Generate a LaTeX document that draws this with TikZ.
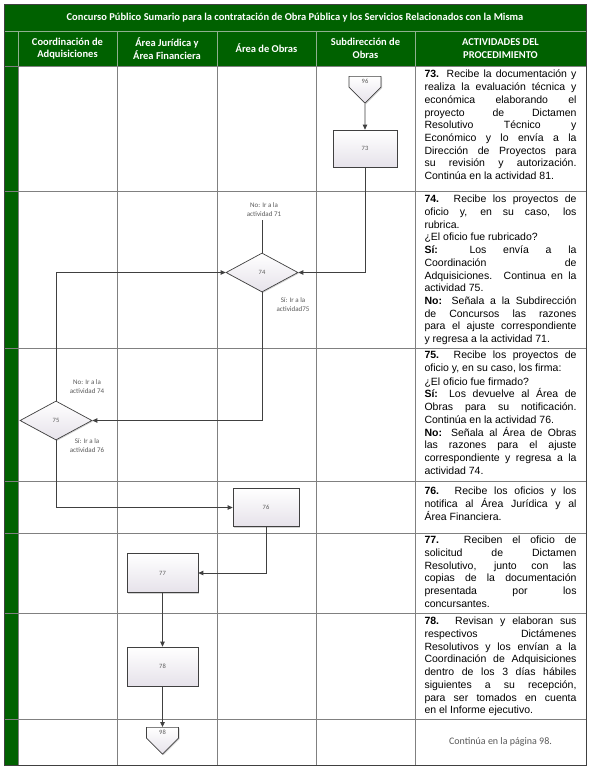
\documentclass[tikz,border=0pt]{standalone}
\usepackage{fontspec}
\setmainfont{Liberation Sans}
\newfontfamily\headfont{Carlito}
\usepackage{xcolor}
\usepackage{tikz}
\usetikzlibrary{positioning, arrows.meta, shapes.geometric, shapes.symbols, shadows}
\definecolor{HeadGreen}{HTML}{006100}
\definecolor{gLine}{HTML}{808080}
\definecolor{hLine}{HTML}{8FAF8F}
\definecolor{fInk}{HTML}{404040}
\definecolor{fShade}{HTML}{E6E2EA}
\definecolor{tGray}{HTML}{595959}
\newcommand\acttune{\tolerance=10000 \hyphenpenalty=10000 \relax}
\tikzset{
  gridline/.style={draw=gLine, line width=0.9pt},
  headcell/.style={font=\headfont\bfseries\fontsize{10.5}{12.5}\selectfont, text=white, align=center, inner sep=1pt},
  acttext/.style={anchor=north, text width=152pt, align=justify, inner sep=0pt,
    font=\fontsize{10.5}{12.7}\selectfont, text=black},
}
\tikzset{
  procbox/.style={draw=fInk, line width=0.7pt, top color=white, bottom color=fShade,
    minimum width=66pt, minimum height=38pt, inner sep=0pt,
    font=\headfont\fontsize{6.5}{7}\selectfont, text=tGray,
    drop shadow={shadow xshift=1pt, shadow yshift=-1pt, opacity=0.35}},
  decision/.style={procbox, diamond, minimum width=72pt, minimum height=39pt},
  offpage/.style={procbox, signal, signal to=south, signal pointer angle=90,
    minimum width=32pt, minimum height=14pt, anchor=north},
  flowline/.style={draw=fInk, line width=0.8pt},
  flowarrow/.style={flowline, -{Triangle[length=5pt, width=4.5pt]}},
  routelabel/.style={font=\headfont\fontsize{7}{9}\selectfont, text=tGray, align=center, inner sep=0pt},
}

\begin{document}
\begin{tikzpicture}[x=1pt, y=-1pt]
  \useasboundingbox (0,0) rectangle (590,769);
  \fill[white] (0,0) rectangle (590,769);
  \fill[HeadGreen] (4,4) rectangle (586,66);
  \fill[HeadGreen] (4,66) rectangle (18,765);
  \draw[hLine, line width=0.6pt] (4,31) -- (586,31);
  \foreach \x in {18,117,217,316,415} {
    \draw[hLine, line width=0.6pt] (\x,31) -- (\x,66);
  }
  \foreach \y in {66,191,348,481,533,613,719} {
    \draw[gridline] (4,\y) -- (586,\y);
  }
  \foreach \x in {18,117,217,316,415} {
    \draw[gridline] (\x,66) -- (\x,765);
  }
  \draw[draw=fInk, line width=1pt] (4,4) rectangle (586,765);

  \node[headcell] (title) at (295,17.5) {Concurso Público Sumario para la contratación de Obra Pública y los Servicios Relacionados con la Misma};
  \node[headcell] (hcoord) at (67.5,48.5) {Coordinación de\\Adquisiciones};
  \node[headcell] (hjur) at (167,48.5) {Área Jurídica y\\Área Financiera};
  \node[headcell] (hobras) at (266.5,48.5) {Área de Obras};
  \node[headcell] (hsub) at (365.5,48.5) {Subdirección de\\Obras};
  \node[headcell] (hact) at (500.5,48.5) {ACTIVIDADES DEL\\PROCEDIMIENTO};

  \node[acttext] (t73) at (500.5,70) {\acttune\textbf{73.} Recibe la documentación y\linebreak
    realiza la evaluación técnica y\linebreak económica elaborando el\linebreak
    proyecto de Dictamen\linebreak Resolutivo Técnico y\linebreak
    Económico y lo envía a la\linebreak Dirección de Proyectos para\linebreak
    su revisión y autorización.\linebreak Continúa en la actividad 81.};
  \node[acttext] (t74) at (500.5,195) {\acttune\textbf{74.} Recibe los proyectos de\linebreak
    oficio y, en su caso, los\linebreak rubrica.\par
    ¿El oficio fue rubricado?\par
    \textbf{Sí:} Los envía a la\linebreak Coordinación de\linebreak
    Adquisiciones. Continua en la\linebreak actividad 75.\par
    \textbf{No:} Señala a la Subdirección\linebreak de Concursos las razones\linebreak
    para el ajuste correspondiente\linebreak y regresa a la actividad 71.};
  \node[acttext] (t75) at (500.5,351) {\acttune\textbf{75.} Recibe los proyectos de\linebreak
    oficio y, en su caso, los firma:\par\vspace{1pt}
    ¿El oficio fue firmado?\par
    \textbf{Sí:} Los devuelve al Área de\linebreak Obras para su notificación.\linebreak
    Continúa en la actividad 76.\par
    \textbf{No:} Señala al Área de Obras\linebreak las razones para el ajuste\linebreak
    correspondiente y regresa a la\linebreak actividad 74.};
  \node[acttext] (t76) at (500.5,487) {\acttune\textbf{76.} Recibe los oficios y los\linebreak
    notifica al Área Jurídica y al\linebreak Área Financiera.};
  \node[acttext] (t77) at (500.5,536) {\acttune\textbf{77.} Reciben el oficio de\linebreak
    solicitud de Dictamen\linebreak Resolutivo, junto con las\linebreak
    copias de la documentación\linebreak presentada por los\linebreak concursantes.};
  \node[acttext] (t78) at (500.5,617) {\acttune\textbf{78.} Revisan y elaboran sus\linebreak
    respectivos Dictámenes\linebreak Resolutivos y los envían a la\linebreak
    Coordinación de Adquisiciones\linebreak dentro de los 3 días hábiles\linebreak
    siguientes a su recepción,\linebreak para ser tomados en cuenta\linebreak
    en el Informe ejecutivo.};
  \node[font=\headfont\fontsize{10}{12}\selectfont, text=tGray] (tcont) at (500.5,742) {Continúa en la página 98.};

  \node[offpage] (c96) at (365,76) {96};
  \node[procbox, minimum width=64pt, minimum height=37pt] (b73) at (365,148.5) {73};
  \node[decision] (d74) at (262,272.5) {74};
  \node[decision] (d75) at (56,420.5) {75};
  \node[procbox] (b76) at (266,507.5) {76};
  \node[procbox, minimum width=71pt, minimum height=39pt] (b77) at (162.5,573) {77};
  \node[procbox, minimum width=71pt, minimum height=39pt] (b78) at (162.5,666.5) {78};
  \node[offpage] (c98) at (162.5,727) {98};
  \coordinate (n71) at (262,220);

  \node[routelabel] (l71) at (264,210) {No: Ir a la\\actividad 71};
  \node[routelabel] (l75) at (293,305) {Sí: Ir a la\\actividad75};
  \node[routelabel] (l74) at (87,387) {No: Ir a la\\actividad 74};
  \node[routelabel] (l76) at (87,446) {Sí: Ir a la\\actividad 76};

  \draw[flowarrow] (c96) -- (b73);
  \draw[flowarrow] (b73.south) |- (d74.east);
  \draw[flowline] (d74.north) -- (n71);
  \draw[flowarrow] (d74.south) |- (d75.east);
  \draw[flowarrow] (d75.north) |- (d74.west);
  \draw[flowarrow] (d75.south) |- (b76.west);
  \draw[flowarrow] (b76.south) |- (b77.east);
  \draw[flowarrow] (b77) -- (b78);
  \draw[flowarrow] (b78) -- (c98);
\end{tikzpicture}
\end{document}
